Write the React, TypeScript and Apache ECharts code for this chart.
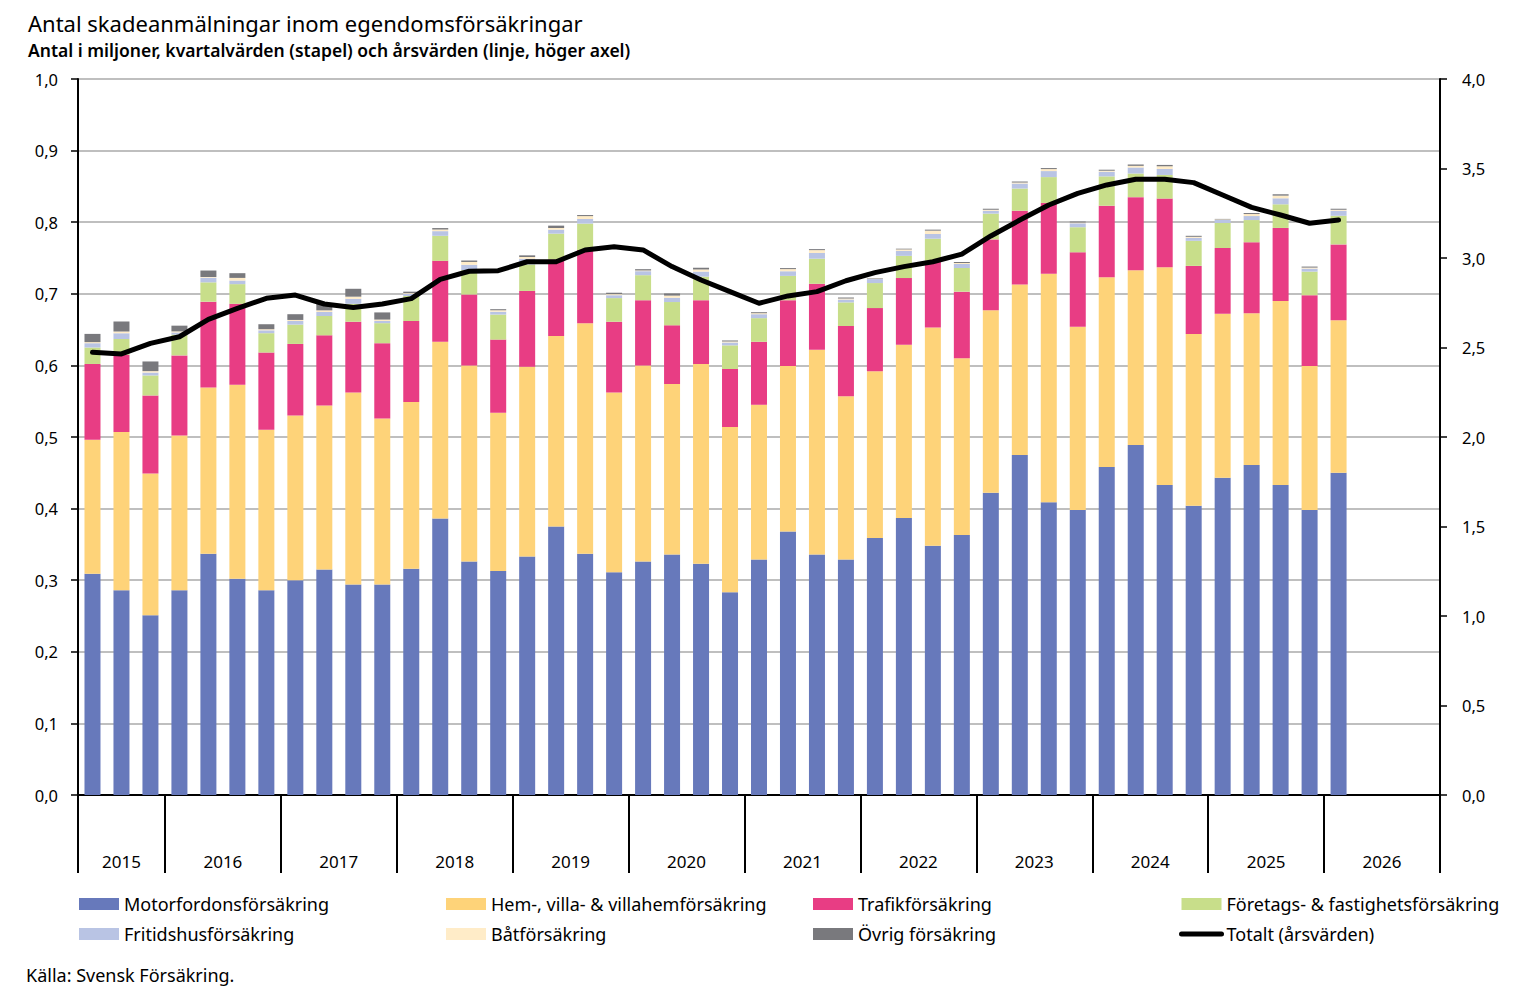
import React, { useEffect, useRef } from 'react';
import * as echarts from 'echarts';

// ---- Data ----
const years = [2015, 2016, 2017, 2018, 2019, 2020, 2021, 2022, 2023, 2024, 2025, 2026];
const quarterNames = ['K1', 'K2', 'K3', 'K4'];
const categories: string[] = [];
years.forEach((y) => quarterNames.forEach((q) => {
  if (!(y === 2015 && q === 'K1')) categories.push(`${y} ${q}`);
}));

const seriesNames = [
  'Motorfordonsförsäkring',
  'Hem-, villa- & villahemförsäkring',
  'Trafikförsäkring',
  'Företags- & fastighetsförsäkring',
  'Fritidshusförsäkring',
  'Båtförsäkring',
  'Övrig försäkring',
];
const lineName = 'Totalt (årsvärden)';

const motor = [0.309, 0.286, 0.251, 0.286, 0.337, 0.302, 0.286, 0.300, 0.315, 0.294, 0.294, 0.316, 0.386, 0.326, 0.313, 0.333, 0.375, 0.337, 0.311, 0.326, 0.336, 0.323, 0.283, 0.329, 0.368, 0.336, 0.329, 0.359, 0.387, 0.348, 0.363, 0.422, 0.475, 0.409, 0.398, 0.458, 0.489, 0.433, 0.404, 0.443, 0.461, 0.433, 0.398, 0.450];
const hem = [0.187, 0.221, 0.198, 0.216, 0.232, 0.271, 0.224, 0.230, 0.229, 0.268, 0.232, 0.233, 0.247, 0.274, 0.221, 0.265, 0.266, 0.322, 0.251, 0.274, 0.238, 0.279, 0.231, 0.216, 0.231, 0.286, 0.228, 0.233, 0.242, 0.305, 0.247, 0.255, 0.238, 0.319, 0.256, 0.265, 0.244, 0.304, 0.240, 0.229, 0.212, 0.257, 0.201, 0.213];
const trafik = [0.106, 0.108, 0.109, 0.112, 0.120, 0.113, 0.108, 0.100, 0.098, 0.099, 0.105, 0.113, 0.113, 0.099, 0.102, 0.106, 0.107, 0.102, 0.099, 0.091, 0.082, 0.089, 0.081, 0.088, 0.092, 0.092, 0.098, 0.088, 0.093, 0.093, 0.093, 0.099, 0.103, 0.099, 0.104, 0.100, 0.102, 0.096, 0.095, 0.092, 0.099, 0.102, 0.099, 0.106];
const foretag = [0.023, 0.022, 0.028, 0.029, 0.027, 0.0275, 0.027, 0.027, 0.027, 0.025, 0.028, 0.035, 0.035, 0.034, 0.035, 0.037, 0.036, 0.037, 0.033, 0.035, 0.0325, 0.033, 0.033, 0.033, 0.034, 0.035, 0.033, 0.035, 0.031, 0.031, 0.033, 0.036, 0.031, 0.036, 0.035, 0.041, 0.033, 0.033, 0.035, 0.035, 0.031, 0.033, 0.033, 0.040];
const fritidshus = [0.006, 0.008, 0.004, 0.003, 0.0065, 0.005, 0.004, 0.005, 0.0056, 0.007, 0.003, 0.003, 0.0065, 0.0075, 0.004, 0.008, 0.0056, 0.0065, 0.004, 0.0056, 0.006, 0.007, 0.004, 0.0055, 0.0065, 0.008, 0.004, 0.0056, 0.007, 0.0065, 0.0056, 0.004, 0.007, 0.0084, 0.0055, 0.0065, 0.0084, 0.0084, 0.0042, 0.0042, 0.0056, 0.0084, 0.0042, 0.007];
const bat = [0.0015, 0.0023, 0.002, 0.0015, 0.001, 0.0037, 0.0015, 0.0015, 0.0023, 0.003, 0.002, 0.001, 0.0023, 0.004, 0.002, 0.0024, 0.0023, 0.004, 0.0015, 0.001, 0.003, 0.003, 0.0014, 0.0014, 0.003, 0.004, 0.0014, 0.0007, 0.002, 0.0047, 0.0014, 0.0014, 0.0014, 0.0028, 0.001, 0.0014, 0.0023, 0.0037, 0.0014, 0.0007, 0.0028, 0.0037, 0.0014, 0.0014];
const ovrig = [0.0115, 0.014, 0.0135, 0.008, 0.009, 0.0066, 0.007, 0.008, 0.009, 0.011, 0.010, 0.002, 0.002, 0.002, 0.0015, 0.0023, 0.0033, 0.0015, 0.002, 0.0018, 0.003, 0.0024, 0.0014, 0.0014, 0.0014, 0.0014, 0.0014, 0.0007, 0.001, 0.0014, 0.0014, 0.0014, 0.0014, 0.0014, 0.0014, 0.0014, 0.0019, 0.0019, 0.0014, 0.0007, 0.0014, 0.0019, 0.0014, 0.0014];
const totalt = [2.473, 2.464, 2.523, 2.56, 2.657, 2.719, 2.775, 2.793, 2.743, 2.724, 2.743, 2.773, 2.881, 2.926, 2.929, 2.979, 2.979, 3.045, 3.063, 3.045, 2.952, 2.877, 2.812, 2.747, 2.788, 2.812, 2.873, 2.918, 2.952, 2.979, 3.022, 3.123, 3.212, 3.296, 3.361, 3.408, 3.44, 3.44, 3.421, 3.352, 3.283, 3.24, 3.194, 3.212];

const leftTicks = { min: 0, max: 1, interval: 0.1 };
const rightTicks = { min: 0, max: 4, interval: 0.5 };

const colors = ['#6779BB', '#FED379', '#E83D84', '#C8DE8A', '#B9C4E4', '#FFECC8', '#79797D'];
const FONT = 'Noto Sans';

const pad = (arr: number[]) => categories.map((_, i) => (i < arr.length ? arr[i] : null));

export default function App() {
  const ref = useRef<HTMLDivElement>(null);
  useEffect(() => {
    if (!ref.current) return;
    const chart = echarts.init(ref.current, undefined, { renderer: 'svg' });
    const barData = [motor, hem, trafik, foretag, fritidshus, bat, ovrig];
    const isYearStart = (i: number) => i === 0 || categories[i].endsWith('K1');
    const labelIdx = new Map<number, string>();
    years.forEach((y) => {
      const first = categories.findIndex((c) => c.startsWith(String(y)));
      const count = categories.filter((c) => c.startsWith(String(y))).length;
      labelIdx.set(first + 1, count === 4 ? `{s|${y}}` : `{n|${y}}`);
    });
    const comma = (v: number) => v.toFixed(1).replace('.', ',');

    const legendItem = (name: string) =>
      name === lineName
        ? { name, itemStyle: { opacity: 0 }, lineStyle: { color: '#000', width: 5, cap: 'round' } }
        : { name, icon: 'rect' };

    const option: any = {
      animation: false,
      textStyle: { fontFamily: FONT, color: '#000' },
      title: [
        { text: 'Antal skadeanmälningar inom egendomsförsäkringar', left: 28, top: 12, padding: 0,
          textStyle: { fontFamily: FONT, fontSize: 22, fontWeight: 'normal', color: '#000' } },
        { text: 'Antal i miljoner, kvartalvärden (stapel) och årsvärden (linje, höger axel)', left: 28, top: 41, padding: 0,
          textStyle: { fontFamily: FONT, fontSize: 17.5, fontWeight: 600, color: '#000' } },
        { text: 'Källa: Svensk Försäkring.', left: 26, top: 966, padding: 0,
          textStyle: { fontFamily: FONT, fontSize: 18, fontWeight: 'normal', color: '#000' } },
      ],
      grid: { left: 78, right: 82, top: 79, bottom: 197, containLabel: false },
      legend: [
        [seriesNames[0], seriesNames[4]],
        [seriesNames[1], seriesNames[5]],
        [seriesNames[2], seriesNames[6]],
        [seriesNames[3], lineName],
      ].map((d, k) => ({
        data: d.map(legendItem),
        orient: 'vertical',
        left: [79, 446, 813, 1179][k],
        top: 895,
        padding: 0,
        itemWidth: 40,
        itemHeight: 12,
        itemGap: 12,
        selectedMode: false,
        textStyle: { fontFamily: FONT, fontSize: 18, color: '#000' },
      })),
      xAxis: {
        type: 'category',
        data: categories,
        boundaryGap: true,
        axisLine: { show: true, lineStyle: { color: '#000', width: 2 } },
        axisTick: { show: true, length: 78, interval: (i: number) => isYearStart(i), lineStyle: { color: '#000', width: 2 } },
        axisLabel: {
          interval: (i: number) => labelIdx.has(i),
          formatter: (_v: string, i: number) => labelIdx.get(i) || '',
          margin: 58,
          fontSize: 17,
          color: '#000',
          fontFamily: FONT,
          rich: {
            s: { padding: [0, 0, 0, 29], fontSize: 17, fontFamily: FONT, color: '#000' },
            n: { fontSize: 17, fontFamily: FONT, color: '#000' },
          },
        },
        splitLine: { show: false },
      },
      yAxis: [
        {
          type: 'value', ...leftTicks, position: 'left',
          axisLine: { show: true, lineStyle: { color: '#000', width: 2 } },
          axisTick: { show: true, length: 7, lineStyle: { color: '#000', width: 1.5 } },
          axisLabel: { formatter: comma, fontSize: 16.5, margin: 20, color: '#000', fontFamily: FONT },
          splitLine: { show: true, lineStyle: { color: '#BFBFBF', width: 2 } },
        },
        {
          type: 'value', ...rightTicks, position: 'right',
          axisLine: { show: true, lineStyle: { color: '#000', width: 2 } },
          axisTick: { show: true, length: 7, lineStyle: { color: '#000', width: 1.5 } },
          axisLabel: { formatter: comma, fontSize: 16.5, margin: 22, color: '#000', fontFamily: FONT },
          splitLine: { show: false },
        },
      ],
      series: [
        ...barData.map((arr, k) => ({
          name: seriesNames[k],
          type: 'bar',
          stack: 'total',
          barWidth: 16,
          data: pad(arr),
          itemStyle: { color: colors[k] },
          emphasis: { disabled: true },
        })),
        {
          name: lineName,
          type: 'line',
          yAxisIndex: 1,
          data: pad(totalt),
          symbol: 'none',
          lineStyle: { color: '#000', width: 5, cap: 'round', join: 'round' },
          itemStyle: { color: '#000' },
          z: 10,
        },
      ],
    };
    chart.setOption(option);
    return () => chart.dispose();
  }, []);
  return <div ref={ref} style={{ position: 'absolute', left: 0, top: 0, width: 1522, height: 992, background: '#fff' }} />;
}
